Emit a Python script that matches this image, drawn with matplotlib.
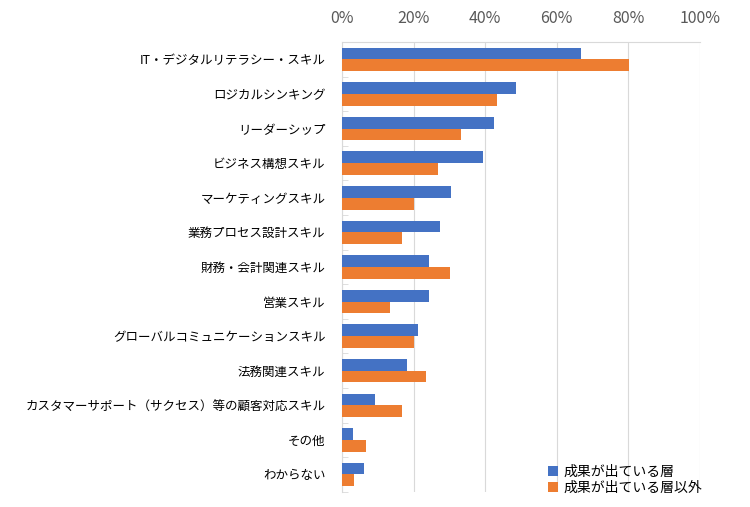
import numpy as np
import matplotlib.pyplot as plt
from matplotlib.ticker import PercentFormatter, FixedLocator

plt.rcParams['font.family'] = ['Noto Sans CJK JP', 'DejaVu Sans']

categories = [
    'IT・デジタルリテラシー・スキル',
    'ロジカルシンキング',
    'リーダーシップ',
    'ビジネス構想スキル',
    'マーケティングスキル',
    '業務プロセス設計スキル',
    '財務・会計関連スキル',
    '営業スキル',
    'グローバルコミュニケーションスキル',
    '法務関連スキル',
    'カスタマーサポート（サクセス）等の顧客対応スキル',
    'その他',
    'わからない',
]
performing = [66.7, 48.5, 42.5, 39.4, 30.4, 27.3, 24.2, 24.2, 21.2, 18.2, 9.1, 3.0, 6.1]
others = [80.1, 43.4, 33.4, 26.7, 20.0, 16.7, 30.1, 13.3, 20.0, 23.5, 16.7, 6.6, 3.3]
series_names = ['成果が出ている層', '成果が出ている層以外']

blue = '#4472C4'
orange = '#ED7D31'

fig = plt.figure(figsize=(7.5, 5.07), dpi=100)
ax = fig.add_axes([0.456, 0.030, 0.477, 0.887])

y = np.arange(len(categories))
h = 0.34
ax.barh(y - h / 2, performing, height=h, color=blue, label=series_names[0], zorder=3)
ax.barh(y + h / 2, others, height=h, color=orange, label=series_names[1], zorder=3)

ax.set_xlim(0, 100)
ax.set_ylim(len(categories) - 0.5, -0.5)
ax.xaxis.tick_top()
ax.set_xticks(np.arange(0, 101, 20))
ax.xaxis.set_major_formatter(PercentFormatter(decimals=0))
ax.tick_params(axis='x', length=0, pad=11, labelsize=11.5, labelcolor='#595959')
ax.grid(axis='x', color='#D9D9D9', linewidth=0.8, zorder=0)

ax.set_yticks(y)
ax.set_yticklabels(categories)
ax.tick_params(axis='y', length=0, pad=12, labelsize=9, labelcolor='#000000')
ax.yaxis.set_minor_locator(FixedLocator(np.arange(-0.5, len(categories), 1)))
ax.tick_params(axis='y', which='minor', direction='in', length=4, color='#D9D9D9')

for side in ['right', 'bottom']:
    ax.spines[side].set_visible(False)
ax.spines['top'].set_color('#D9D9D9')
ax.spines['left'].set_color('#D9D9D9')

ax.legend(loc='lower right', bbox_to_anchor=(1.034, -0.028), frameon=False, fontsize=10,
          handlelength=0.7, handleheight=0.7, handletextpad=0.4, labelspacing=0.15,
          borderpad=0.2)

fig.savefig('out.png', dpi=100)
